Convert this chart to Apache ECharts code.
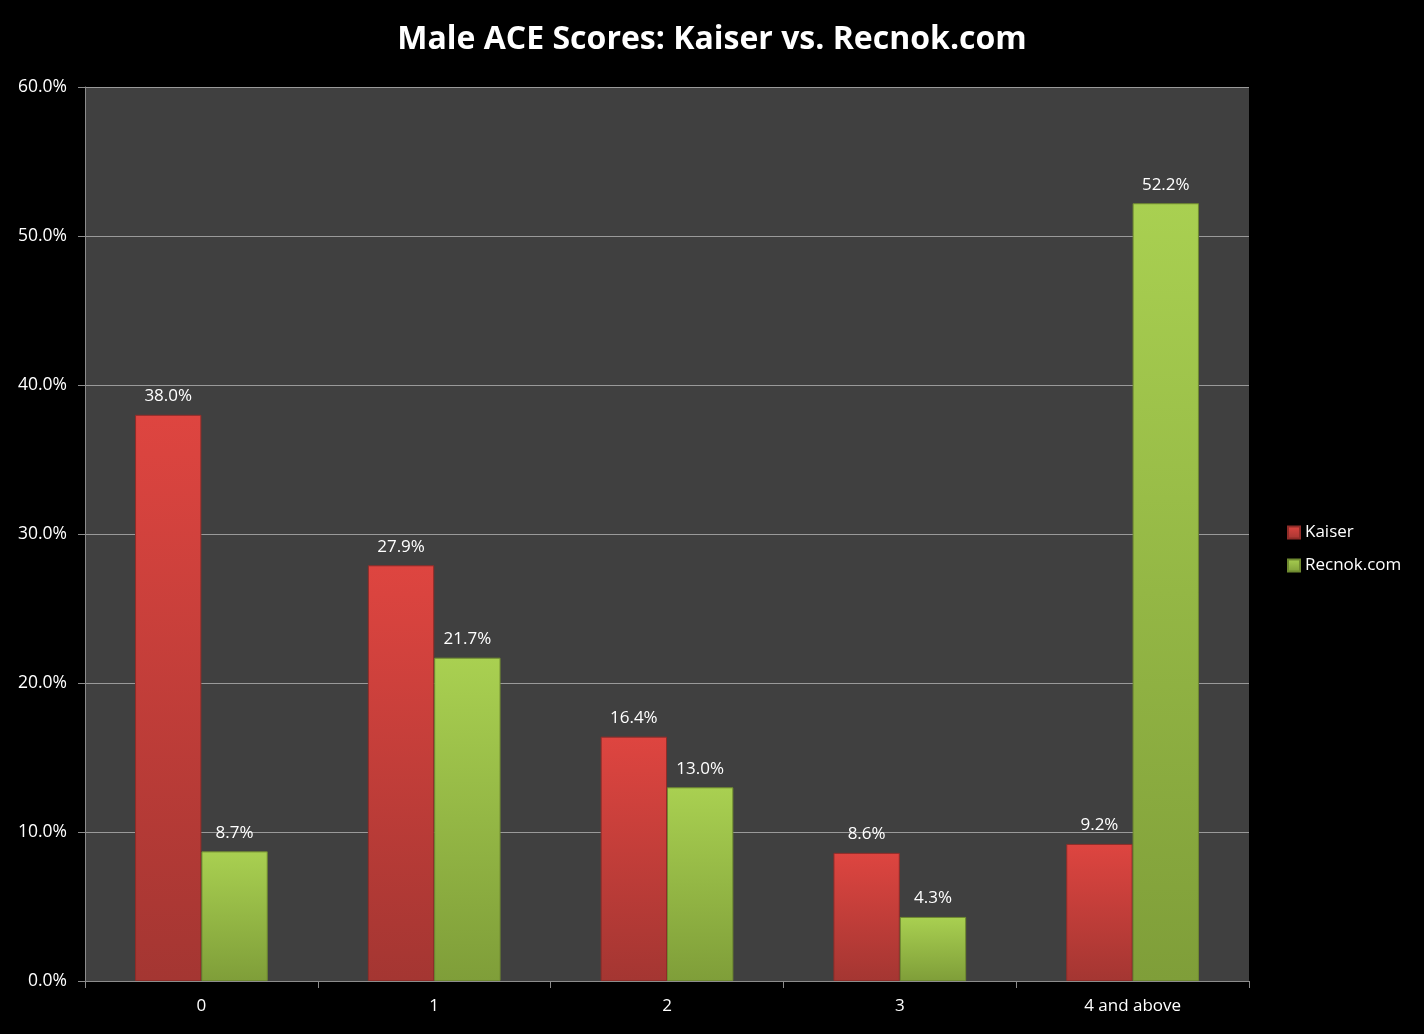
<!DOCTYPE html>
<html><head><meta charset="utf-8">
<script src="https://cdn.jsdelivr.net/npm/echarts@6/dist/echarts.min.js"></script>
<style>html,body{margin:0;padding:0;background:#000;}#c{width:1424px;height:1034px;}</style>
</head><body><div id="c"></div>
<script>
const categories = ['0', '1', '2', '3', '4 and above'];
const kaiser = [38.0, 27.9, 16.4, 8.6, 9.2];
const recnok = [8.7, 21.7, 13.0, 4.3, 52.2];
const seriesNames = ['Kaiser', 'Recnok.com'];

const font = '"Open Sans", "Liberation Sans", sans-serif';
const chart = echarts.init(document.getElementById('c'), null, {renderer: 'canvas'});
function grad(top, bottom) {
  return new echarts.graphic.LinearGradient(0, 0, 0, 1, [{offset: 0, color: top}, {offset: 1, color: bottom}]);
}
const redFill = grad('#de4540', '#a43632');
const greenFill = grad('#a9d051', '#7f9e39');
const labelStyle = {show: true, position: 'top', distance: 10, color: '#fff', fontFamily: font, fontSize: 17, formatter: p => p.value.toFixed(1) + '%'};
chart.setOption({
  backgroundColor: '#000',
  animation: false,
  title: {
    text: 'Male ACE Scores: Kaiser vs. Recnok.com',
    left: 'center', top: 19,
    textStyle: {color: '#fff', fontFamily: '"Open Sans", sans-serif', fontWeight: 'bold', fontSize: 32}
  },
  legend: {
    orient: 'vertical', left: 1282, top: 519, itemGap: 16,
    itemWidth: 12, itemHeight: 12, icon: 'rect',
    textStyle: {color: '#fff', fontFamily: font, fontSize: 17},
    data: seriesNames
  },
  grid: {left: 85, right: 175, top: 87, bottom: 53, show: true, backgroundColor: '#404040', borderWidth: 0},
  xAxis: {
    type: 'category', data: categories,
    axisLine: {lineStyle: {color: '#8c8c8c', width: 1}},
    axisTick: {show: true, length: 7, lineStyle: {color: '#8c8c8c'}},
    axisLabel: {color: '#fff', fontFamily: font, fontSize: 17, margin: 17}
  },
  yAxis: {
    type: 'value', min: 0, max: 60, interval: 10,
    axisLine: {show: true, lineStyle: {color: '#8c8c8c'}},
    axisTick: {show: true, length: 7, lineStyle: {color: '#8c8c8c'}},
    splitLine: {lineStyle: {color: '#9a9a9a', width: 1}},
    axisLabel: {color: '#fff', fontFamily: font, fontSize: 17.5, margin: 18, formatter: v => v.toFixed(1) + '%'}
  },
  series: [
    {name: seriesNames[0], type: 'bar', data: kaiser, barGap: '0%', barCategoryGap: '43%',
     itemStyle: {color: redFill, borderColor: '#8f2c28', borderWidth: 1},
     label: labelStyle},
    {name: seriesNames[1], type: 'bar', data: recnok,
     itemStyle: {color: greenFill, borderColor: '#6f8a30', borderWidth: 1},
     label: labelStyle}
  ]
});
</script></body></html>
